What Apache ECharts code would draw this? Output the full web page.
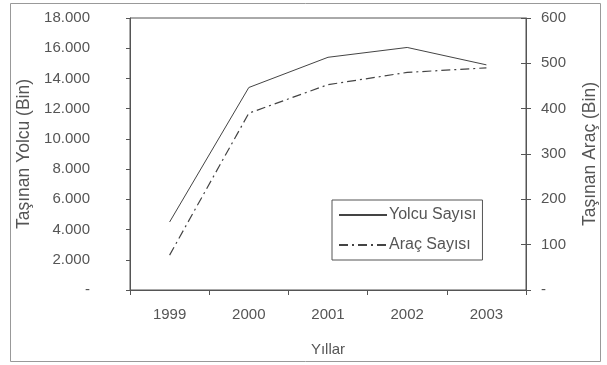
<!DOCTYPE html>
<html><head><meta charset="utf-8">
<script src="https://cdn.jsdelivr.net/npm/echarts@6/dist/echarts.min.js"></script>
<style>html,body{margin:0;padding:0;background:#fff}#c{width:607px;height:365px}</style>
</head><body><div id="c"></div>
<script>
var years = ['1999','2000','2001','2002','2003'];
var yolcu = [4500, 13400, 15400, 16050, 14900];
var arac = [77, 390, 453, 480, 490];
var leftTicks = {min:0, max:18000, interval:2000};
var rightTicks = {min:0, max:600, interval:100};

var FONT = '"Liberation Sans", Arial, sans-serif';
var TXT = '#555';
var AX = '#555';
function fmtLeft(v){ if(v===0) return '-'; var s=String(v); return s.replace(/\B(?=(\d{3})+(?!\d))/g,'.'); }
function fmtRight(v){ return v===0 ? '-' : String(v); }

var chart = echarts.init(document.getElementById('c'), null, {renderer:'canvas'});
chart.setOption({
  animation:false,
  backgroundColor:'#fff',
  textStyle:{fontFamily:FONT},
  graphic:[{type:'rect', shape:{x:10.5,y:3.5,width:590,height:358}, style:{fill:null, stroke:'#999', lineWidth:1}, silent:true}],
  grid:{left:130, right:79, top:18, bottom:75, show:true, borderColor:AX, borderWidth:1, backgroundColor:'transparent'},
  legend:{
    orient:'vertical', left:332, top:200, padding:[7,6],
    itemWidth:48, itemHeight:14, itemGap:14,
    borderColor:'#555', borderWidth:1,
    itemStyle:{opacity:0},
    textStyle:{fontFamily:FONT, fontSize:16, color:TXT, padding:[0,0,0,-3]},
    data:[{name:'Yolcu Sayısı'},{name:'Araç Sayısı'}]
  },
  xAxis:{
    type:'category', data:years, boundaryGap:true,
    name:'Yıllar', nameLocation:'middle', nameGap:52,
    nameTextStyle:{fontFamily:FONT, fontSize:15, color:TXT},
    axisLine:{lineStyle:{color:AX}},
    axisTick:{show:true, length:5, lineStyle:{color:AX}},
    axisLabel:{fontFamily:FONT, fontSize:15, color:TXT, margin:17},
    splitLine:{show:false}
  },
  yAxis:[
    {type:'value', position:'left', min:leftTicks.min, max:leftTicks.max, interval:leftTicks.interval,
     name:'Taşınan Yolcu (Bin)', nameLocation:'middle', nameGap:95, nameRotate:90,
     nameTextStyle:{fontFamily:FONT, fontSize:17.5, color:TXT},
     axisLine:{show:true, lineStyle:{color:AX}},
     axisTick:{show:true, length:4, lineStyle:{color:AX}},
     axisLabel:{fontFamily:FONT, fontSize:15, color:TXT, margin:40, formatter:fmtLeft},
     splitLine:{show:false}},
    {type:'value', position:'right', min:rightTicks.min, max:rightTicks.max, interval:rightTicks.interval,
     name:'Taşınan Araç (Bin)', nameLocation:'middle', nameGap:55, nameRotate:90,
     nameTextStyle:{fontFamily:FONT, fontSize:17.5, color:TXT},
     axisLine:{show:true, lineStyle:{color:AX}},
     axisTick:{show:true, length:5, lineStyle:{color:AX}},
     axisLabel:{fontFamily:FONT, fontSize:15, color:TXT, margin:15, formatter:fmtRight},
     splitLine:{show:false}},
    {type:'value', position:'right', min:rightTicks.min, max:rightTicks.max, interval:rightTicks.interval,
     axisLine:{show:false}, axisTick:{show:true, inside:true, length:5, lineStyle:{color:AX}},
     axisLabel:{show:false}, splitLine:{show:false}}
  ],
  series:[
    {name:'Yolcu Sayısı', type:'line', yAxisIndex:0, data:yolcu, symbol:'none', showSymbol:false,
     lineStyle:{color:'#444', width:1, type:'solid'}, itemStyle:{color:'#444'}},
    {name:'Araç Sayısı', type:'line', yAxisIndex:1, data:arac, symbol:'none', showSymbol:false,
     lineStyle:{color:'#444', width:1.2, type:[9,4,2,4]}, itemStyle:{color:'#444'}}
  ]
});
</script>
</body></html>
